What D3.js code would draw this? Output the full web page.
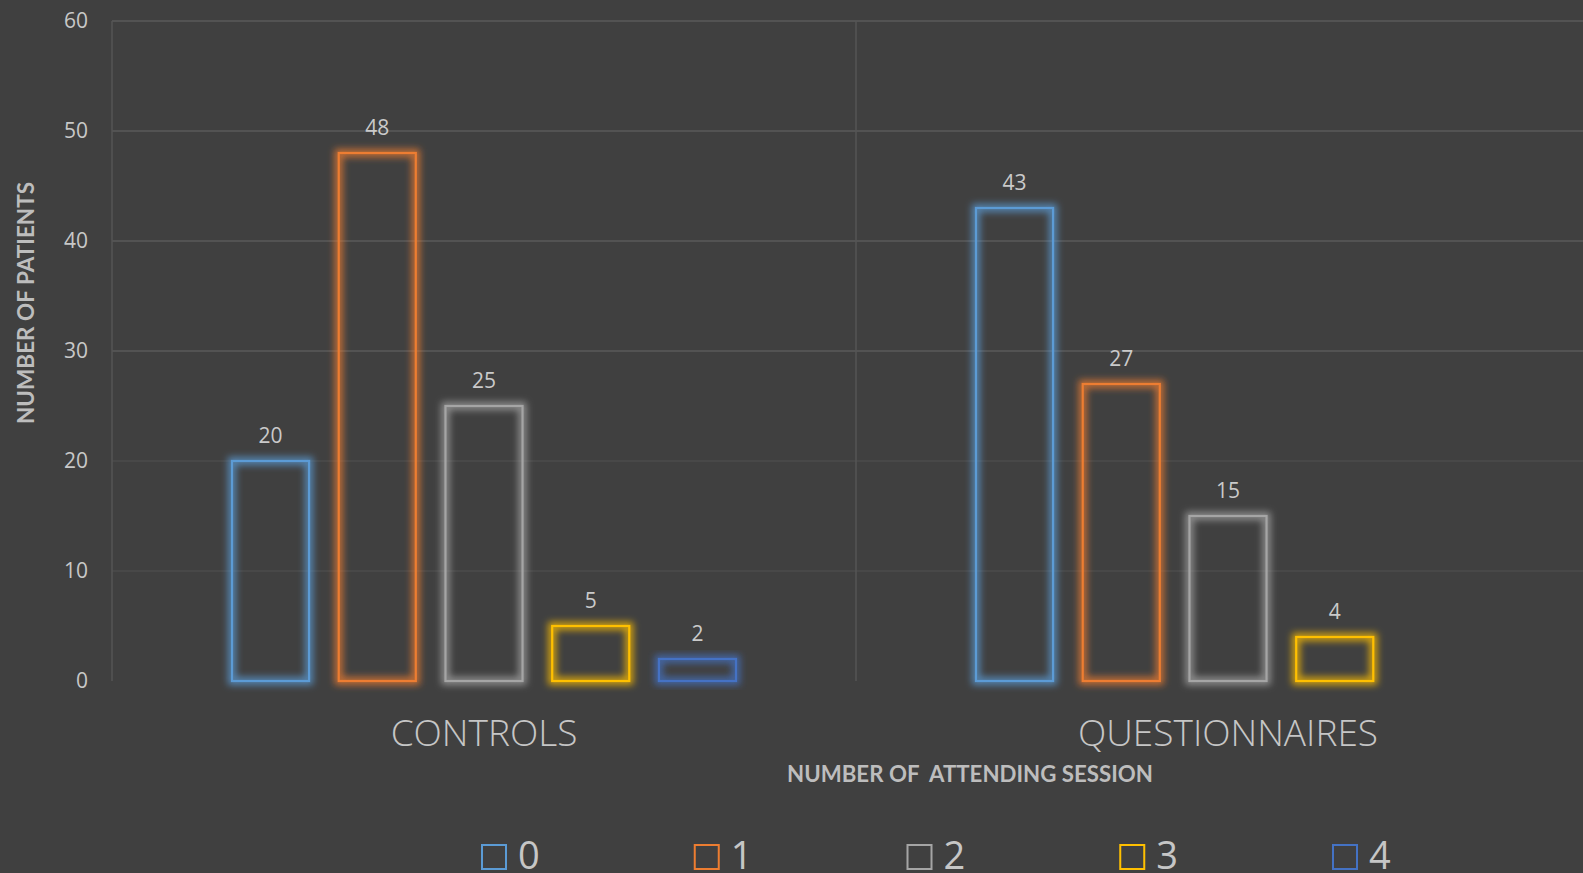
<!DOCTYPE html>
<html><head><meta charset="utf-8">
<script src="https://cdn.jsdelivr.net/npm/d3@7"></script>
<style>html,body{margin:0;padding:0;background:#404040;overflow:hidden}</style>
</head><body>
<svg id="chart" width="1583" height="873"></svg>
<script>
const categories = ["CONTROLS", "QUESTIONNAIRES"];
const seriesNames = ["0", "1", "2", "3", "4"];
const seriesColors = ["#5B9BD5", "#ED7D31", "#A5A5A5", "#FFC000", "#4472C4"];
const controlsValues = [20, 48, 25, 5, 2];
const questionnairesValues = [43, 27, 15, 4, null];
const yTicks = [0, 10, 20, 30, 40, 50, 60];
const xTitle = "NUMBER OF  ATTENDING SESSION";
const yTitle = "NUMBER OF PATIENTS";

(function () {
const values = [controlsValues, questionnairesValues];
const svg = d3.select("#chart");
const W = 1583, H = 873;
svg.append("rect").attr("width", W).attr("height", H).attr("fill", "#404040");

const pLeft = 112, pTop = 21, pBottom = 681, pRight = 1600;
const y = d3.scaleLinear().domain([0, 60]).range([pBottom, pTop]);
const x0 = d3.scaleBand().domain(categories).range([pLeft, pRight]).padding(0);
const x1 = d3.scaleBand().domain(seriesNames).range([120, 624]).paddingInner(0.278).paddingOuter(0);

const defs = svg.append("defs");
const f = defs.append("filter").attr("id", "glow").attr("x", "-40%").attr("y", "-40%").attr("width", "180%").attr("height", "180%");
f.append("feMorphology").attr("in", "SourceGraphic").attr("operator", "dilate").attr("radius", 2.5).attr("result", "d");
f.append("feGaussianBlur").attr("in", "d").attr("stdDeviation", 3.5).attr("result", "b");
f.append("feComponentTransfer").attr("in", "b").attr("result", "b2")
  .append("feFuncA").attr("type", "linear").attr("slope", 0.75);
const m = f.append("feMerge");
m.append("feMergeNode").attr("in", "b2");
m.append("feMergeNode").attr("in", "SourceGraphic");

// gridlines
const g = svg.append("g");
g.selectAll("line.h").data(yTicks.filter(d => d > 0)).join("line")
  .attr("x1", pLeft).attr("x2", W)
  .attr("y1", d => y(d)).attr("y2", d => y(d))
  .attr("stroke", d => d >= 30 ? "#5a5a5a" : "#4b4b4b").attr("stroke-width", 1.5);
g.selectAll("line.v").data([pLeft, x0(categories[1])]).join("line")
  .attr("x1", d => d).attr("x2", d => d).attr("y1", pTop).attr("y2", pBottom)
  .attr("stroke", "#555555").attr("stroke-width", 1.5);

// y tick labels
const yAxis = d3.axisLeft(y).tickValues(yTicks).tickSize(0).tickPadding(24);
const ya = svg.append("g").attr("transform", `translate(${pLeft},0)`).call(yAxis);
ya.select(".domain").remove();
ya.selectAll("text").attr("fill", "#c8c8c8").style("font-family", "Open Sans").style("font-size", "21px");

// bars
categories.forEach((cat, ci) => {
  const grp = svg.append("g").attr("transform", `translate(${x0(cat)},0)`);
  const data = seriesNames.map((s, si) => ({s, si, v: values[ci][si]})).filter(d => d.v != null);
  grp.selectAll("rect").data(data).join("rect")
    .attr("x", d => x1(d.s)).attr("width", x1.bandwidth())
    .attr("y", d => y(d.v)).attr("height", d => y(0) - y(d.v))
    .attr("fill", "none").attr("stroke", d => seriesColors[d.si]).attr("stroke-width", 2.2)
    .attr("filter", "url(#glow)");
  grp.selectAll("text").data(data).join("text")
    .attr("x", d => x1(d.s) + x1.bandwidth() / 2).attr("y", d => y(d.v) - 18)
    .attr("text-anchor", "middle").attr("fill", "#cacaca")
    .style("font-family", "Open Sans").style("font-size", "21px")
    .text(d => d.v);
});

// category labels
svg.selectAll("text.cat").data(categories).join("text").attr("class", "cat")
  .attr("x", d => x0(d) + x0.bandwidth() / 2).attr("y", 746)
  .attr("text-anchor", "middle").attr("fill", "#c6c6c6")
  .style("font-family", "Open Sans").style("font-weight", 300).style("font-size", "37px")
  .text(d => d);

// x title
svg.append("text").attr("x", 970).attr("y", 782).attr("text-anchor", "middle")
  .attr("fill", "#bdbdbd").style("font-family", "Lato").style("font-weight", 700).style("font-size", "22px")
  .style("white-space", "pre").attr("xml:space", "preserve")
  .attr("textLength", 366).attr("lengthAdjust", "spacingAndGlyphs")
  .text(xTitle);

// y title
svg.append("text").attr("transform", "translate(34,303) rotate(-90)").attr("text-anchor", "middle")
  .attr("fill", "#bdbdbd").style("font-family", "Lato").style("font-weight", 700).style("font-size", "22px")
  .attr("textLength", 242).attr("lengthAdjust", "spacingAndGlyphs")
  .text(yTitle);

// legend
const lg = svg.append("g");
const legX = d3.scalePoint().domain(seriesNames).range([482, 1333]);
const li = lg.selectAll("g").data(seriesNames).join("g")
  .attr("transform", d => `translate(${legX(d)},845)`);
li.append("rect").attr("width", 24).attr("height", 24).attr("fill", "none")
  .attr("stroke", (d, i) => seriesColors[i]).attr("stroke-width", 2);
li.append("text").attr("x", 36).attr("y", 24).attr("fill", "#c6c6c6")
  .style("font-family", "Open Sans").style("font-size", "38px").text(d => d);
})();
</script>
</body></html>
